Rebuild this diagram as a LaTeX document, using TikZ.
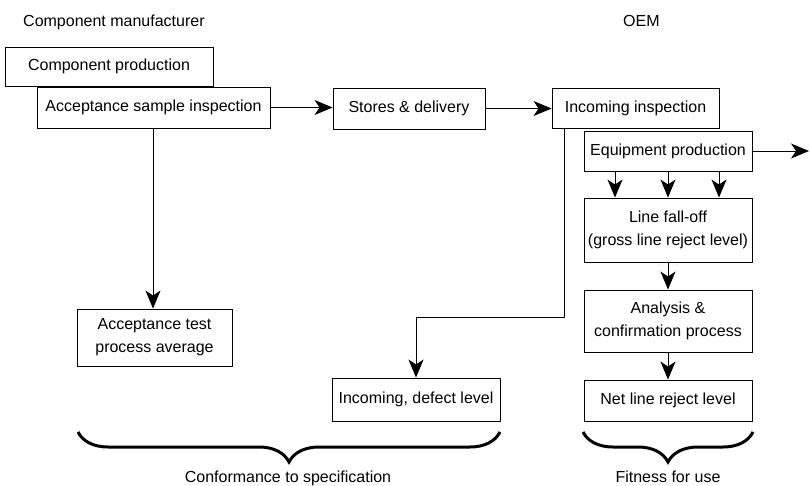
\documentclass[tikz,border=0pt]{standalone}
\usepackage{fontspec}
\setmainfont{Liberation Sans}
\usetikzlibrary{arrows.meta,decorations.pathreplacing}
\begin{document}
\begin{tikzpicture}[x=1pt,y=-1pt,
  every node/.style={font=\fontsize{16}{23}\selectfont},
  box/.style={draw,line width=0.9pt,fill=white,inner sep=0pt,align=center},
  arr/.style={line width=0.9pt,-{Stealth[length=18pt,width=15pt,inset=5pt]}},
  brc/.style={line width=3pt,decorate,decoration={brace,mirror,amplitude=30pt}}]
\useasboundingbox (0,0) rectangle (810,486);
% titles
\node[anchor=base west,inner sep=0pt] (tcm) at (23,27) {Component manufacturer};
\node[anchor=base west,inner sep=0pt] (toem) at (623,27) {OEM};
% boxes
\node[box,minimum width=208pt,minimum height=39pt] (cp) at (109,66.5) {Component production};
\node[box,minimum width=233pt,minimum height=41pt] (asi) at (153.5,107.5) {Acceptance sample inspection};
\node[box,minimum width=152pt,minimum height=41pt] (sd) at (409,108.5) {Stores \& delivery};
\node[box,minimum width=167pt,minimum height=40pt] (ii) at (635.5,108) {Incoming inspection};
\node[box,minimum width=168pt,minimum height=40pt] (ep) at (668,151) {Equipment production};
\node[box,minimum width=168pt,minimum height=64pt] (lfo) at (668,230) {Line fall-off\\(gross line reject level)};
\node[box,minimum width=168pt,minimum height=62pt] (ana) at (668,321) {Analysis \&\\confirmation process};
\node[box,minimum width=168pt,minimum height=41pt] (nlr) at (668,400.5) {Net line reject level};
\node[box,minimum width=168pt,minimum height=43pt] (idl) at (416,399.5) {Incoming, defect level};
\node[box,minimum width=155pt,minimum height=57pt] (atp) at (154.5,337.5) {Acceptance test\\process average};
\coordinate (out) at (809,151);
% connectors
\draw[arr] (asi.east) -- (asi.east -| sd.west);
\draw[arr] (sd.east) -- (sd.east -| ii.west);
\draw[arr] (ep.east) -- (out);
\draw[arr] ([xshift=-53pt]ep.south) -- ([xshift=-53pt]lfo.north);
\draw[arr] (ep.south) -- (lfo.north);
\draw[arr] ([xshift=51pt]ep.south) -- ([xshift=51pt]lfo.north);
\draw[arr] (lfo.south) -- (ana.north);
\draw[arr] (ana.south) -- (nlr.north);
\draw[arr] ([xshift=-0.5pt]asi.south) -- ([xshift=-0.5pt]asi.south |- atp.north);
\draw[arr] ([xshift=13pt]ii.south west) -- ++(0,189) -| (idl.north);
% braces
\draw[brc] (78,432) -- (500,432);
\draw[brc] (583,432) -- (753,432);
\node[anchor=base,inner sep=0pt] (conf) at (288,482) {Conformance to specification};
\node[anchor=base,inner sep=0pt] (fit) at (668,482) {Fitness for use};
\end{tikzpicture}
\end{document}
